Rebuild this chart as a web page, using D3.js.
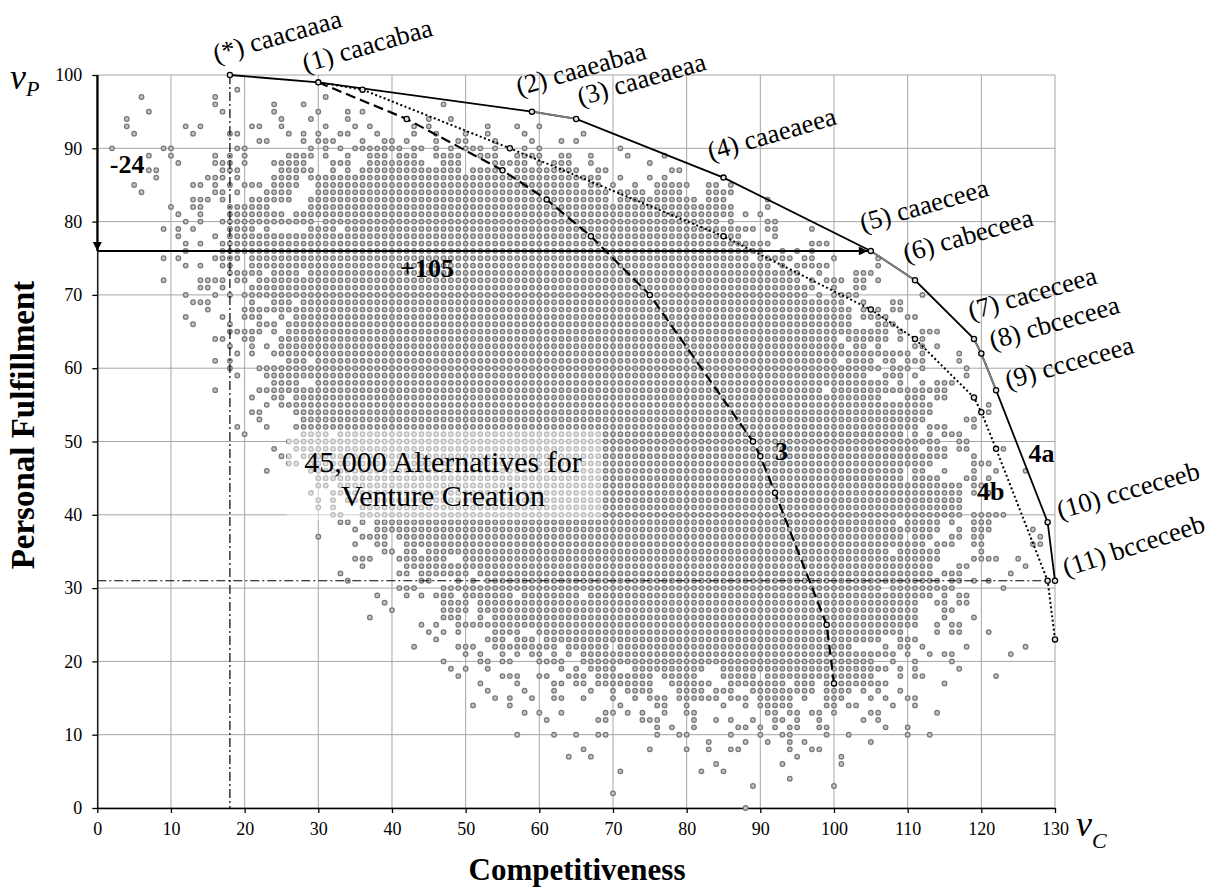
<!DOCTYPE html>
<html>
<head>
<meta charset="utf-8">
<script src="https://cdn.jsdelivr.net/npm/d3@7"></script>
<style>
  body { margin: 0; background: #fff; }
  svg { display: block; }
  text { font-family: "Liberation Serif", "Times New Roman", serif; }
</style>
</head>
<body>
<div id="chart"></div>
<script>
// tick labels
const xTicks = [0, 10, 20, 30, 40, 50, 60, 70, 80, 90, 100, 110, 120, 130];
const yTicks = [0, 10, 20, 30, 40, 50, 60, 70, 80, 90, 100];

// 45,000 alternatives: for each vP row, the vC values (runs "a-b")
const cloudRows = [
  [98, "19"],
  [97, "6,16,31"],
  [96, "16,24,28,47"],
  [95, "7,17,24,30,34,36"],
  [94, "4,25,29,34,45,48"],
  [93, "4,12,14,21,22,25,31,35,37,43,45,53,57,60"],
  [92, "5,13,18,19,26,28,30,33,34,38,43,46,50,53,58,66"],
  [91, "22,23,28,30-32,36,39,40,42,46,49,50,54,59,63,65"],
  [90, "2,9,10,19,20,29,31,33,35-41,43,44,46,48,50-52,54,58,60,71"],
  [89, "7,10,16,18,20,26-29,31,34,37-39,41-43,46-49,52-54,57-60,63,64,67,72,77"],
  [88, "11,16-18,20,24-28,32-34,37-44,47-49,54-58,60,62-64,67,75"],
  [87, "7,8,17-19,25-29,32,34,36-49,51-54,57-65,68,69,78,79"],
  [86, "8,15-17,19,24-27,29-68,71,75,77"],
  [85, "5,13,14,16,18,20-22,24-27,30-65,67,68,70,73,76-80,83,84,86"],
  [84, "6,16,17,19,23-26,30-69,71-74,76-79,83-86"],
  [83, "13-15,17,21-26,29-69,71-81,83-85,91"],
  [82, "10,13,14,18-23,29-86,91"],
  [81, "11,14,18-25,27-86,88,90"],
  [80, "12,14,17-29,31-84,86,91,92"],
  [79, "9,11,13,18-21,23,29-32,34-89,91,92,97"],
  [78, "11,16,18-87,92"],
  [77, "12,14,17-91,97-99"],
  [76, "12,17-90,93,95,97"],
  [75, "9,11,16-19,21-88,90-94,96,97,100,106"],
  [74, "12,14,17,18,21-91,93,95-99,106"],
  [73, "18-22,24-27,29-95,98,103-105"],
  [72, "9,14-17,19,20,22-95,97,99-101,103,104,106"],
  [71, "14,15,17,21-97,100,103,104"],
  [70, "12,16,18,20-96,98,100-103,112"],
  [69, "13-15,21,24-26,28-101,104,108,109"],
  [68, "15,20-102,104,106,108,109"],
  [67, "12,17,20-22,25,27-102,104-107,110,111"],
  [66, "13,18,22-24,26-102,106-108"],
  [65, "18-22,24,26-107,109,112-114"],
  [64, "16,17,20,21,25-100,102-107,109,112"],
  [63, "18,21,23,25-101,103,104,106,111,112,114"],
  [62, "19,21,24-110,112,117"],
  [61, "16,18,26-28,30-100,102-105,107,108,110-112,117"],
  [60, "18,22-106,108-110,112,118"],
  [59, "19,23-104,107-109,111,118"],
  [58, "24-27,30-107,109,112,114-116"],
  [57, "16,22-98,100-115"],
  [56, "21,24,25,27-106,110-112,114,115"],
  [55, "23,25-113,121"],
  [54, "21,22,27-113,121"],
  [53, "22,28-112,118,119"],
  [52, "19,23,27-111,113-115,119"],
  [51, "20,28-31,33-109,111,113,115-117"],
  [50, "26-114,117,118"],
  [49, "24,27-111,113-115,117,118,123"],
  [48, "25,26,28-115,119"],
  [47, "26,27,29-113,119-121"],
  [46, "23,29-109,111,112,115,119,122,126"],
  [45, "30-109,111-114,118,119,121"],
  [44, "30,31,33-117,119,120"],
  [43, "29,32-117,119,121"],
  [42, "30,32,34-117"],
  [41, "30,32,36-117"],
  [40, "32,33,36-117,119-123"],
  [39, "33,34,36,38-108,110-114,116,119-121"],
  [38, "35,38-114,117,119-121,127"],
  [37, "30,36-39,41-109,111-113,116,117,119,120,128"],
  [36, "35,38,39,42-112,114-116,119,120,127,128"],
  [35, "39,40,42,43,45-107,109-114,120"],
  [34, "35-37,41-47,50-114,119-122,125"],
  [33, "36,42-113,117,118,126"],
  [32, "33,41,42,44-50,52-113,115-117,124"],
  [31, "34,44,45,49,51,53-114,116,117,119,121"],
  [30, "41-43,47-106,108-116,123"],
  [29, "38,42,44,46-48,50-56,58-65,67-113,115,117,118"],
  [28, "39,47-50,52-111,114,115,117,118"],
  [27, "40,47-50,52-111,115,116"],
  [26, "37,47-49,52,54-111,115,119"],
  [25, "44,46,49-111,114,116,117"],
  [24, "45,47,49,54-57,60-109,114,116,117,121"],
  [23, "46,53-55,57-59,61-106,109-111"],
  [22, "43,49-51,54-62,64-69,71-102,107,109,110,112,118,126"],
  [21, "50,52,55,57,59,60,62,64,66-108,110,113,115,116,124"],
  [20, "47,52,53,55,56,60-63,66-105,108,111,116"],
  [19, "48,50,53,63,65,67-70,73-82,85-107,109,111,117"],
  [18, "49,55-57,60,61,64-66,68-75,77-81,85-89,91-105,109,111,112,122"],
  [17, "52,57,62,63,65,66,68-75,78-83,86-93,95-97,99-107,115"],
  [16, "53,58,62,67,70,72-75,79-82,84-86,89-97,99-102,104,106,109"],
  [15, "54,56,59,62,63,66,70,73,75-77,79-84,86-88,90-94,96,99-101,105,107,110,111"],
  [14, "51,56,71,76,77,80,85,88,90-94,99,100,102,103,108,111"],
  [13, "58,60,63,69,70,72,74,77,80,81,91,92,94,95,97,98,100,105,106,114"],
  [12, "61,68,69,74-76,81,84,86,89,92,93,95,98,104,106"],
  [11, "76,78,81,87,88,90,92,94,95,98,99,107,110"],
  [10, "57,62,65,68,69,76,79,80,86,90,93,94,99,102,110,113"],
  [9, "83,88,91,94,96,105"],
  [8, "66,75,80,83,86,87,94,97,98"],
  [7, "64,67,95,101"],
  [6, "84,93,101"],
  [5, "71,82,85"],
  [4, "94"],
  [3, "89,100"],
  [2, "70"],
  [0, "88"]
];

// efficient frontier (4a) with its alternatives
const frontier4a = [[18, 100], [30, 99], [59, 95], [65, 94], [85, 86], [105, 76],
                    [111, 72], [119, 64], [120, 62], [122, 57], [129, 39], [130, 31]];
const frontierNames = ["(*) caacaaaa", "(1) caacabaa", "(2) caaeabaa", "(3) caaeaeaa",
                       "(4) caaeaeea", "(5) caaeceea", "(6) cabeceea", "(7) caceceea",
                       "(8) cbceceea", "(9) ccceceea", "(10) ccceceeb", "(11) bcceceeb"];
// frontier parts drawn in gray (index pairs)
const graySegments = [[2, 3], [5, 6], [7, 8], [8, 9]];

// second frontier (4b, dotted) and curve 3 (dashed)
const path4b = [[30, 99], [36, 98], [56, 90], [85, 78], [105, 68], [111, 64],
                [119, 56], [120, 54], [122, 49], [129, 31], [130, 23]];
const path3 = [[30, 99], [42, 94], [55, 87], [61, 83], [67, 78], [75, 70],
               [89, 50], [90, 48], [92, 43], [99, 25], [100, 17]];

// reference lines and trade-off arrows
const refC = 18, refP = 31;
const lossArrow = [[0, 100], [0, 76]];
const gainArrow = [[0, 76], [105, 76]];

// annotations [text, vC, vP]
const boldNotes = [["-24", 1.7, 86.6], ["+105", 41.1, 72.4], ["3", 92, 47.5], ["4a", 126.4, 47.2], ["4b", 119.4, 42]];
const cloudTitle = ["45,000 Alternatives for", "Venture Creation"];

const width = 1218, height = 895;
const serif = "'Liberation Serif', 'Times New Roman', serif";

const x = d3.scaleLinear().domain([0, 130]).range([97.3, 1055]);
const y = d3.scaleLinear().domain([0, 100]).range([808, 75]);

const svg = d3.select("#chart").append("svg")
    .attr("width", width)
    .attr("height", height);

// grid
svg.append("g").selectAll("line").data(xTicks).join("line")
    .attr("x1", d => x(d)).attr("x2", d => x(d))
    .attr("y1", y(0)).attr("y2", y(100))
    .attr("stroke", "#a6a6a6").attr("stroke-width", 1);
svg.append("g").selectAll("line").data(yTicks).join("line")
    .attr("x1", x(0)).attr("x2", x(130))
    .attr("y1", d => y(d)).attr("y2", d => y(d))
    .attr("stroke", "#a6a6a6").attr("stroke-width", 1);

// axes
const xAxis = svg.append("g")
    .attr("transform", `translate(0,${y(0)})`)
    .call(d3.axisBottom(x).tickValues(xTicks).tickSize(5).tickPadding(9).tickSizeOuter(0));
const yAxis = svg.append("g")
    .attr("transform", `translate(${x(0)},0)`)
    .call(d3.axisLeft(y).tickValues(yTicks).tickSize(5).tickPadding(10).tickSizeOuter(0));
[xAxis, yAxis].forEach(g => {
    g.attr("font-family", serif).attr("font-size", 18);
    g.selectAll("path, line").attr("stroke", "#000").attr("stroke-width", 1.3);
    g.selectAll("text").attr("fill", "#000");
});

// cloud of alternatives
const cloud = [];
cloudRows.forEach(([p, runs]) => {
    runs.split(",").forEach(r => {
        const [a, b = a] = r.split("-").map(Number);
        for (let c = a; c <= b; c++) cloud.push([c, p]);
    });
});
svg.append("g").selectAll("circle").data(cloud).join("circle")
    .attr("cx", d => x(d[0]))
    .attr("cy", d => y(d[1]))
    .attr("r", 2.3)
    .attr("fill", "#c4c4c4")
    .attr("stroke", "#777")
    .attr("stroke-width", 1.25);

// light box behind the cloud title
svg.append("rect")
    .attr("x", 287).attr("y", 430).attr("width", 315).attr("height", 90)
    .attr("fill", "#fff").attr("opacity", 0.5);

// dash-dot reference lines
const dashDot = "9,3,2,3";
svg.append("line")
    .attr("x1", x(refC)).attr("x2", x(refC)).attr("y1", y(100)).attr("y2", y(0))
    .attr("stroke", "#000").attr("stroke-width", 1.2).attr("stroke-dasharray", dashDot);
svg.append("line")
    .attr("x1", x(0)).attr("x2", x(129)).attr("y1", y(refP)).attr("y2", y(refP))
    .attr("stroke", "#000").attr("stroke-width", 1.2).attr("stroke-dasharray", dashDot);

const line = d3.line().x(d => x(d[0])).y(d => y(d[1]));

// curve 3 (dashed) and 4b (dotted)
svg.append("path").datum(path3).attr("d", line)
    .attr("fill", "none").attr("stroke", "#000").attr("stroke-width", 2.2).attr("stroke-dasharray", "10,5");
svg.append("path").datum(path4b).attr("d", line)
    .attr("fill", "none").attr("stroke", "#000").attr("stroke-width", 2).attr("stroke-dasharray", "2,2.5");

// frontier 4a
svg.append("path").datum(frontier4a).attr("d", line)
    .attr("fill", "none").attr("stroke", "#000").attr("stroke-width", 1.8);
svg.append("g").selectAll("path").data(graySegments).join("path")
    .attr("d", s => line([frontier4a[s[0]], frontier4a[s[1]]]))
    .attr("fill", "none").attr("stroke", "#808080").attr("stroke-width", 1.8);

// markers
const markerPts = [...path3.slice(1), ...path4b.slice(1), ...frontier4a];
svg.append("g").selectAll("circle").data(markerPts).join("circle")
    .attr("cx", d => x(d[0])).attr("cy", d => y(d[1]))
    .attr("r", 2.6)
    .attr("fill", "#e0e0e0")
    .attr("stroke", "#000")
    .attr("stroke-width", 1.3);

// arrows
svg.append("defs").append("marker")
    .attr("id", "arrow")
    .attr("viewBox", "0 -5 10 10")
    .attr("refX", 10).attr("refY", 0)
    .attr("markerWidth", 12).attr("markerHeight", 9)
    .attr("markerUnits", "userSpaceOnUse")
    .attr("orient", "auto")
    .append("path").attr("d", "M0,-5L10,0L0,5Z").attr("fill", "#000");
svg.append("line")
    .attr("x1", x(lossArrow[0][0])).attr("y1", y(lossArrow[0][1]))
    .attr("x2", x(lossArrow[1][0])).attr("y2", y(lossArrow[1][1]))
    .attr("stroke", "#000").attr("stroke-width", 2).attr("marker-end", "url(#arrow)");
svg.append("line")
    .attr("x1", x(gainArrow[0][0])).attr("y1", y(gainArrow[0][1]))
    .attr("x2", x(gainArrow[1][0]) - 3).attr("y2", y(gainArrow[1][1]))
    .attr("stroke", "#000").attr("stroke-width", 2).attr("marker-end", "url(#arrow)");

// frontier labels, rotated
const labelOffsets = [[-14, -12], [-13, -10], [-13, -16], [4, -13], [-13, -17], [-8, -19],
                      [-9, -18], [-3, -19], [11, -4], [12, -1], [12, -3], [11, -4]];
svg.append("g").selectAll("text").data(frontierNames).join("text")
    .attr("transform", (d, i) => {
        const px = x(frontier4a[i][0]) + labelOffsets[i][0];
        const py = y(frontier4a[i][1]) + labelOffsets[i][1];
        return `translate(${px},${py}) rotate(${i === 11 ? -18 : -16})`;
    })
    .attr("font-size", 26.7)
    .attr("fill", "#000")
    .text(d => d);

// bold annotations
svg.append("g").selectAll("text").data(boldNotes).join("text")
    .attr("x", d => x(d[1])).attr("y", d => y(d[2]))
    .attr("font-size", 26).attr("font-weight", "bold")
    .text(d => d[0]);

// cloud title
svg.append("g").selectAll("text").data(cloudTitle).join("text")
    .attr("x", 443)
    .attr("y", (d, i) => 472 + i * 34)
    .attr("text-anchor", "middle")
    .attr("font-size", 30)
    .text(d => d);

// axis titles
svg.append("text")
    .attr("x", 577).attr("y", 880)
    .attr("text-anchor", "middle")
    .attr("font-size", 31).attr("font-weight", "bold")
    .text("Competitiveness");
svg.append("text")
    .attr("transform", "translate(34,425) rotate(-90)")
    .attr("text-anchor", "middle")
    .attr("font-size", 33).attr("font-weight", "bold")
    .text("Personal Fulfillment");

// variable symbols v_P and v_C
const vP = svg.append("text").attr("x", 10).attr("y", 89).attr("font-style", "italic");
vP.append("tspan").attr("font-size", 36).text("v");
vP.append("tspan").attr("font-size", 22).attr("dy", 7).text("P");
const vC = svg.append("text").attr("x", 1076).attr("y", 836).attr("font-style", "italic");
vC.append("tspan").attr("font-size", 36).text("v");
vC.append("tspan").attr("font-size", 22).attr("dy", 12).text("C");
</script>
</body>
</html>
